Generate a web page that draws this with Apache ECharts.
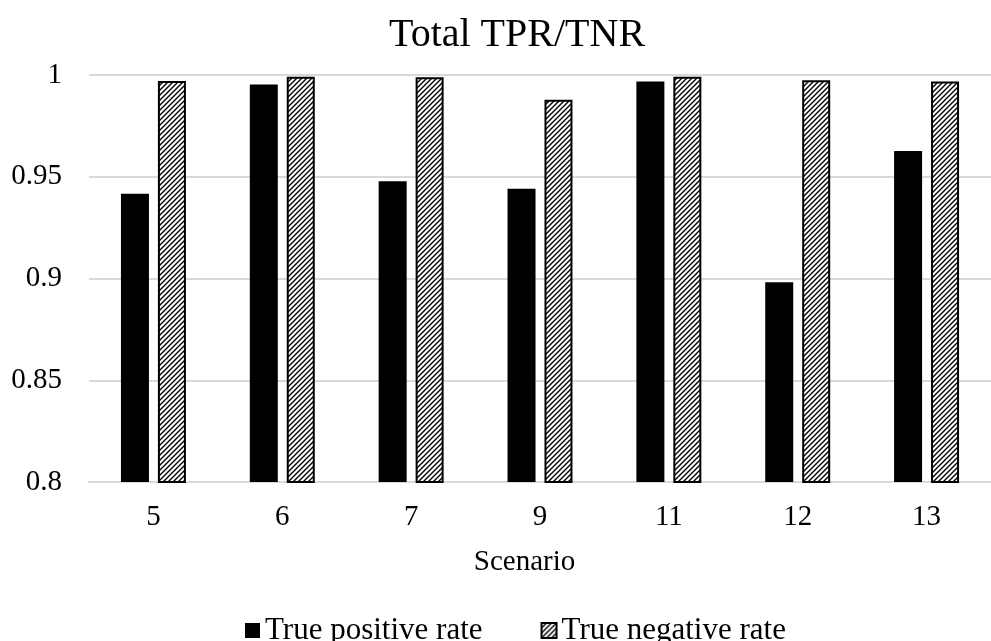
<!DOCTYPE html>
<html>
<head>
<meta charset="utf-8">
<script src="https://cdn.jsdelivr.net/npm/echarts@6/dist/echarts.min.js"></script>
<style>
  html, body { margin: 0; padding: 0; background: #fff; overflow: hidden; }
  #chart { width: 991px; height: 641px; }
</style>
</head>
<body>
<div id="chart"></div>
<script>
// Scenario labels along the x axis
const scenarios = ['5', '6', '7', '9', '11', '12', '13'];
// True positive rate per scenario
const truePositiveRate = [0.9417, 0.9953, 0.9478, 0.9441, 0.9968, 0.8981, 0.9626];
// True negative rate per scenario
const trueNegativeRate = [0.9970, 0.9991, 0.9989, 0.9878, 0.9991, 0.9974, 0.9968];

const serif = 'Liberation Serif';

// Diagonal "/" hatch tile used to fill the negative-rate bars
function hatchTile() {
  const s = 5;
  const c = document.createElement('canvas');
  c.width = s; c.height = s;
  const g = c.getContext('2d');
  g.fillStyle = '#ffffff';
  g.fillRect(0, 0, s, s);
  g.strokeStyle = '#000000';
  g.lineWidth = 1.4;
  g.beginPath();
  g.moveTo(-1, s + 1); g.lineTo(s + 1, -1);
  g.moveTo(-1, 1); g.lineTo(1, -1);
  g.moveTo(s - 1, s + 1); g.lineTo(s + 1, s - 1);
  g.stroke();
  return c;
}

const chart = echarts.init(document.getElementById('chart'), null, { renderer: 'canvas' });

chart.setOption({
  animation: false,
  backgroundColor: '#ffffff',
  title: {
    text: 'Total TPR/TNR',
    left: 389,
    top: 15,
    padding: 0,
    textStyle: { fontFamily: serif, fontSize: 40, fontWeight: 'normal', color: '#000' }
  },
  legend: {
    left: 240,
    top: 610,
    itemWidth: 15,
    itemHeight: 15,
    itemGap: 58,
    icon: 'rect',
    textStyle: { fontFamily: serif, fontSize: 31, color: '#000' },
    data: ['True positive rate', 'True negative rate']
  },
  grid: {
    left: 89,
    right: -10,
    top: 75,
    bottom: 159,
    containLabel: false
  },
  xAxis: {
    type: 'category',
    data: scenarios,
    name: 'Scenario',
    nameLocation: 'middle',
    nameGap: 66,
    nameTextStyle: { fontFamily: serif, fontSize: 29, color: '#000', padding: [0, 31, 0, 0] },
    axisLine: { show: true, lineStyle: { color: '#d9d9d9', width: 2 } },
    axisTick: { show: false },
    axisLabel: { fontFamily: serif, fontSize: 29, color: '#000', margin: 21 }
  },
  yAxis: {
    type: 'value',
    min: 0.8,
    max: 1,
    interval: 0.05,
    axisLine: { show: false },
    axisTick: { show: false },
    axisLabel: { fontFamily: serif, fontSize: 29, color: '#000', margin: 27 },
    splitLine: { lineStyle: { color: '#d9d9d9', width: 2 } }
  },
  series: [
    {
      name: 'True positive rate',
      type: 'bar',
      data: truePositiveRate,
      barWidth: 28,
      barGap: '32%',
      itemStyle: { color: '#000000' }
    },
    {
      name: 'True negative rate',
      type: 'bar',
      data: trueNegativeRate,
      barWidth: 28,
      itemStyle: {
        color: { image: hatchTile(), repeat: 'repeat' },
        borderColor: '#000000',
        borderWidth: 2
      }
    }
  ]
});
</script>
</body>
</html>
